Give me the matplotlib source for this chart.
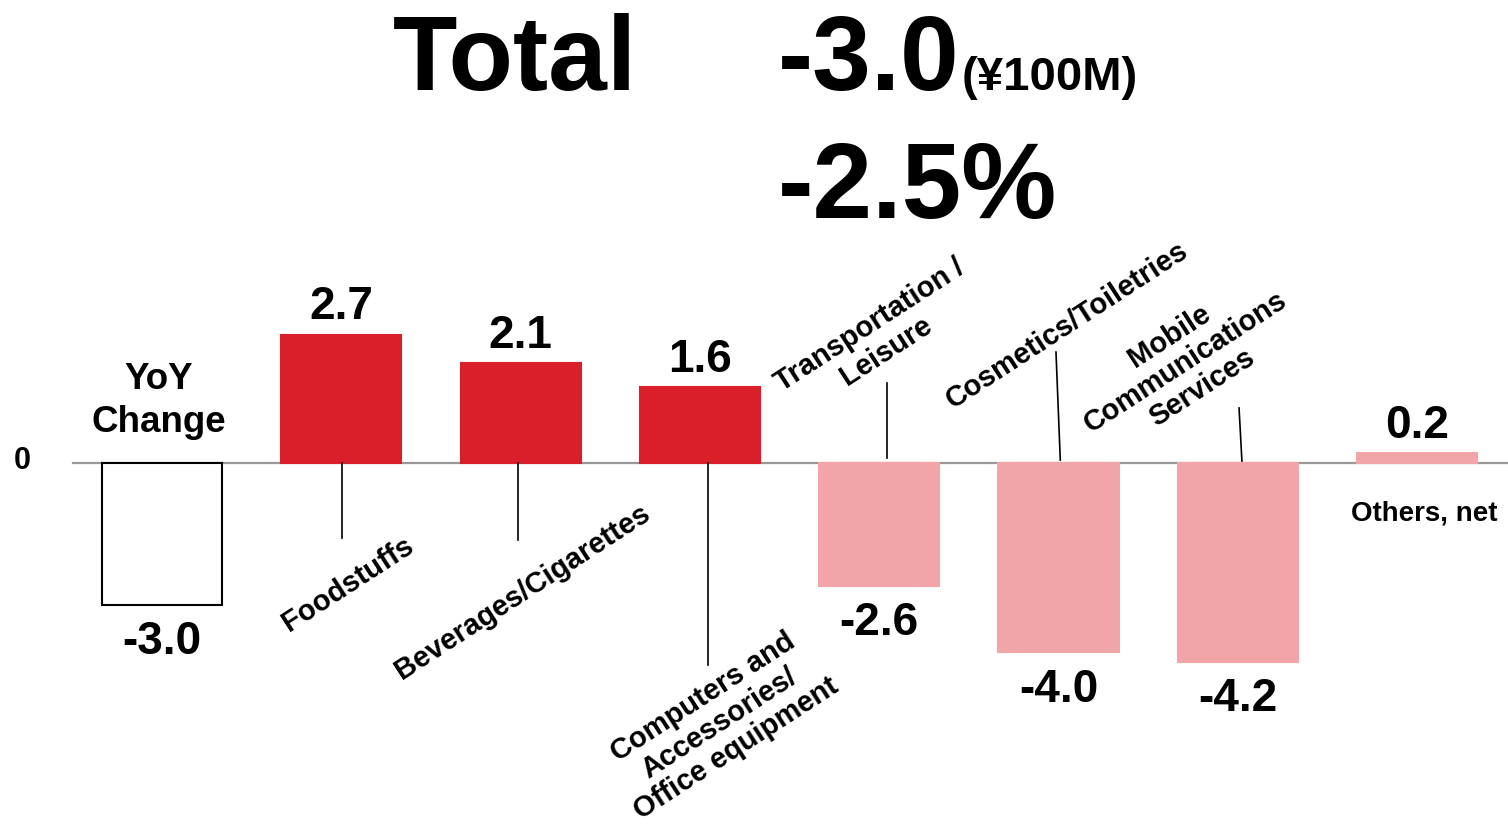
import matplotlib
matplotlib.use("Agg")
import matplotlib.pyplot as plt

plt.rcParams['font.family'] = ['Liberation Sans', 'DejaVu Sans']
plt.rcParams['font.weight'] = 'bold'

# data
categories = ["YoY\nChange", "Foodstuffs", "Beverages/Cigarettes",
              "Computers and\nAccessories/\nOffice equipment",
              "Transportation /\nLeisure", "Cosmetics/Toiletries",
              "Mobile\nCommunications\nServices", "Others, net"]
values = [-3.0, 2.7, 2.1, 1.6, -2.6, -4.0, -4.2, 0.2]
value_labels = ["-3.0", "2.7", "2.1", "1.6", "-2.6", "-4.0", "-4.2", "0.2"]
total_amount = "-3.0"
total_unit = "(¥100M)"
total_pct = "-2.5%"

RED = '#D9202A'
PINK = '#F2A5A8'
face = ['white', RED, RED, RED, PINK, PINK, PINK, PINK]
edge = ['black', RED, RED, RED, PINK, PINK, PINK, PINK]

fig = plt.figure(figsize=(15.08, 8.24), dpi=100)
ax = fig.add_axes([0, 0, 1, 1])
ax.set_xlim(-0.9035, 7.507)
ax.set_ylim(-7.62, 9.77)
ax.axis('off')

x = list(range(len(values)))
ax.plot([-0.496, 7.51], [0, 0], color='#999999', lw=1.6, zorder=1)
ax.bar(x, values, width=0.67, color=face, edgecolor=edge, linewidth=1.5, zorder=2)

for xi, v, lab in zip(x, values, value_labels):
    if v >= 0:
        ax.annotate(lab, (xi, v), xytext=(0, 4), textcoords='offset points',
                    ha='center', va='bottom', fontsize=33, fontweight='bold')
    else:
        ax.annotate(lab, (xi, v), xytext=(0, -11), textcoords='offset points',
                    ha='center', va='top', fontsize=33, fontweight='bold')

# zero label
ax.text(-0.78, 0.05, "0", ha='center', va='center', fontsize=22, fontweight='bold')

# YoY Change label
ax.text(-0.02, 1.3, categories[0], ha='center', va='center', fontsize=26.5,
        fontweight='bold', linespacing=1.3)

# category labels with leader lines
label_pos = {1: (0.035, -2.55), 2: (0.01, -2.72), 3: (0.11, -5.49),
             4: (-0.007, 2.64), 5: (0.047, 2.91), 6: (-0.29, 2.13)}
leaders = {1: (0.006, 0, 0.006, -1.58), 2: (-0.015, 0, -0.015, -1.62),
           3: (0.045, 0, 0.045, -4.26), 4: (0.043, 0.1, 0.043, 1.69),
           5: (0.01, 0.06, -0.014, 2.34), 6: (0.023, 0.04, 0.007, 1.16)}

for i, (dx, ty) in label_pos.items():
    ax.text(x[i] + dx, ty, categories[i], rotation=33, rotation_mode='anchor',
            ha='center', va='center', multialignment='center', fontsize=21,
            fontweight='bold', linespacing=1.12)
    x0, y0, x1, y1 = leaders[i]
    ax.plot([x[i] + x0, x[i] + x1], [y0, y1], color='black', lw=1.2, zorder=4)

ax.text(x[7] + 0.04, -1.07, categories[7], ha='center', va='center',
        fontsize=20, fontweight='bold')

# title
fig.text(515 / 1508, 1 - 90 / 824, "Total", ha='center', va='baseline',
         fontsize=76, fontweight='bold')
fig.text(778 / 1508, 1 - 90 / 824, total_amount, ha='left', va='baseline',
         fontsize=76, fontweight='bold')
fig.text(962 / 1508, 1 - 90 / 824, total_unit, ha='left', va='baseline',
         fontsize=34, fontweight='bold')
fig.text(778 / 1508, 1 - 218 / 824, total_pct, ha='left', va='baseline',
         fontsize=77, fontweight='bold')

fig.savefig("out.png", dpi=100)
